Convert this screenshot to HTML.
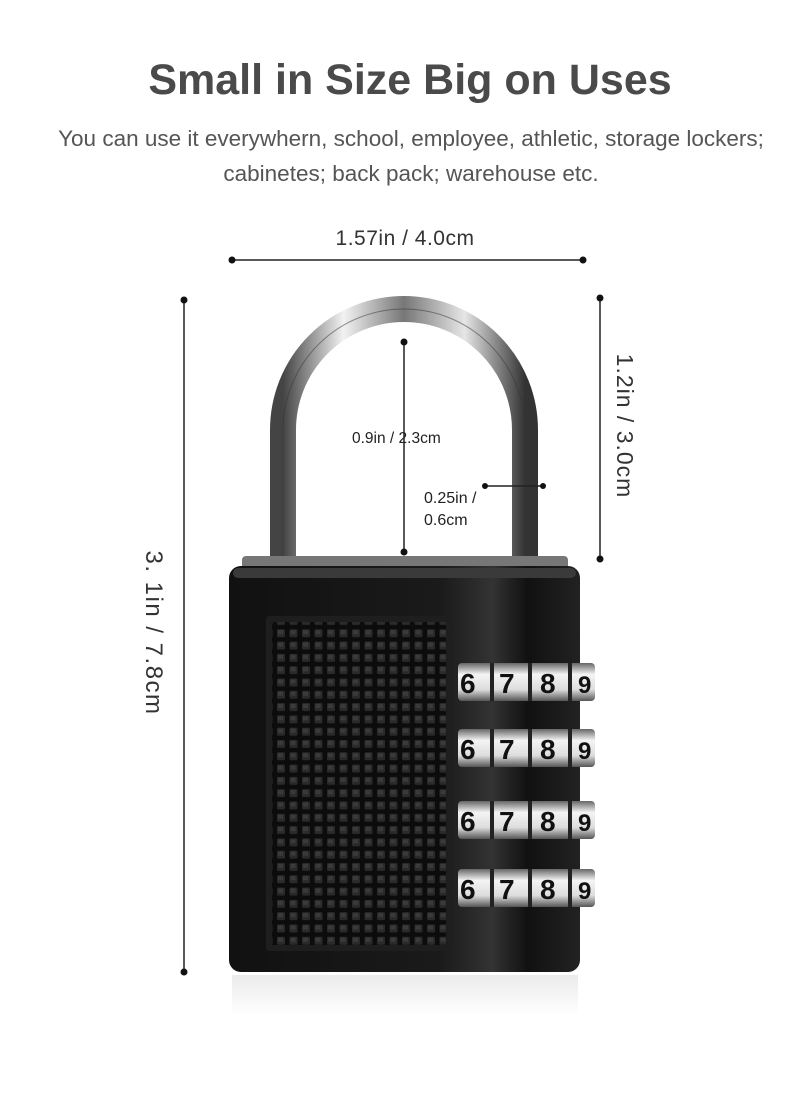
<!DOCTYPE html>
<html><head><meta charset="utf-8"><style>
html,body{margin:0;padding:0;background:#fff;}
body{width:800px;height:1091px;overflow:hidden;font-family:"Liberation Sans",sans-serif;}
</style></head><body>
<svg width="800" height="1091" viewBox="0 0 800 1091" xmlns="http://www.w3.org/2000/svg" font-family="Liberation Sans, sans-serif">
<defs>
<linearGradient id="chrome" x1="0" x2="1" y1="0" y2="0">
<stop offset="0" stop-color="#444"/><stop offset="0.25" stop-color="#f2f2f2"/><stop offset="0.5" stop-color="#777"/><stop offset="0.75" stop-color="#e6e6e6"/><stop offset="1" stop-color="#333"/>
</linearGradient>
<linearGradient id="body" x1="0" x2="1">
<stop offset="0" stop-color="#111"/><stop offset="0.6" stop-color="#1a1a1a"/><stop offset="0.75" stop-color="#333"/><stop offset="0.85" stop-color="#111"/><stop offset="1" stop-color="#222"/>
</linearGradient>
<linearGradient id="dial" x1="0" x2="0" y1="0" y2="1">
<stop offset="0" stop-color="#666"/><stop offset="0.3" stop-color="#f4f4f4"/><stop offset="0.7" stop-color="#ddd"/><stop offset="1" stop-color="#555"/>
</linearGradient>
<pattern id="grid" width="12.5" height="12.3" patternUnits="userSpaceOnUse">
<rect width="12.5" height="12.3" fill="#0c0c0c"/>
<rect x="2" y="2" width="8" height="8" rx="1.5" fill="#2a2a2a"/>
<rect x="3" y="3" width="5" height="4" fill="#3a3a3a"/>
</pattern>
<linearGradient id="refl" x1="0" x2="0" y1="0" y2="1"><stop offset="0" stop-color="#ddd"/><stop offset="1" stop-color="#fff"/></linearGradient>
</defs>
<text x="410" y="94" text-anchor="middle" font-size="43" font-weight="bold" fill="#4a4a4a">Small in Size Big on Uses</text>
<text x="411" y="146" text-anchor="middle" font-size="22.5" fill="#555">You can use it everywhern, school, employee, athletic, storage lockers;</text>
<text x="411" y="181" text-anchor="middle" font-size="22.5" fill="#555">cabinetes; back pack; warehouse etc.</text>

<!-- dims -->
<text x="405" y="245" text-anchor="middle" font-size="21" fill="#333" letter-spacing="0.5">1.57in / 4.0cm</text>
<line x1="232" y1="260" x2="583" y2="260" stroke="#222" stroke-width="1.5"/>
<circle cx="232" cy="260" r="3.5" fill="#111"/><circle cx="583" cy="260" r="3.5" fill="#111"/>
<line x1="184" y1="300" x2="184" y2="972" stroke="#222" stroke-width="1.5"/>
<circle cx="184" cy="300" r="3.5" fill="#111"/><circle cx="184" cy="972" r="3.5" fill="#111"/>
<text transform="translate(146,633) rotate(90)" text-anchor="middle" font-size="24" fill="#333" letter-spacing="1.5">3. 1in / 7.8cm</text>
<line x1="600" y1="298" x2="600" y2="559" stroke="#222" stroke-width="1.5"/>
<circle cx="600" cy="298" r="3.5" fill="#111"/><circle cx="600" cy="559" r="3.5" fill="#111"/>
<text transform="translate(617,426) rotate(90)" text-anchor="middle" font-size="23" fill="#333" letter-spacing="1">1.2in / 3.0cm</text>

<!-- reflection -->
<rect x="232" y="975" width="346" height="40" fill="url(#refl)" opacity="0.6"/>

<!-- shackle -->
<path d="M283 565 L283 430 A121 121 0 0 1 525 430 L525 565" fill="none" stroke="url(#chrome)" stroke-width="26"/>
<path d="M283 565 L283 430 A121 121 0 0 1 525 430 L525 565" fill="none" stroke="#333" stroke-width="1" opacity="0.5"/>

<!-- inner dims -->
<line x1="404" y1="342" x2="404" y2="552" stroke="#222" stroke-width="1.5"/>
<circle cx="404" cy="342" r="3.5" fill="#111"/><circle cx="404" cy="552" r="3.5" fill="#111"/>
<text x="352" y="443" font-size="15.5" fill="#222">0.9in / 2.3cm</text>
<line x1="485" y1="486" x2="543" y2="486" stroke="#222" stroke-width="1.5"/>
<circle cx="485" cy="486" r="3" fill="#111"/><circle cx="543" cy="486" r="3" fill="#111"/>
<text x="424" y="503" font-size="16" fill="#222">0.25in /</text>
<text x="424" y="525" font-size="16" fill="#222">0.6cm</text>

<!-- body -->
<rect x="242" y="556" width="326" height="16" rx="4" fill="#777"/>
<rect x="229" y="566" width="351" height="406" rx="12" fill="url(#body)"/>
<rect x="233" y="568" width="343" height="10" rx="5" fill="#3a3a3a"/>
<rect x="266" y="616" width="186" height="335" rx="3" fill="#1e1e1e"/>
<rect x="272" y="622" width="174" height="323" fill="url(#grid)"/>

<!-- dials -->
<g font-size="28" font-weight="bold" fill="#111">
<g transform="translate(0,663)">
<rect x="458" y="0" width="137" height="38" rx="4" fill="url(#dial)"/>
<line x1="492" y1="0" x2="492" y2="38" stroke="#222" stroke-width="4"/><line x1="530" y1="0" x2="530" y2="38" stroke="#222" stroke-width="4"/><line x1="570" y1="0" x2="570" y2="38" stroke="#222" stroke-width="4"/>
<text x="460" y="30">6</text><text x="499" y="30">7</text><text x="540" y="30">8</text><text x="578" y="30" font-size="24">9</text></g>
<g transform="translate(0,729)">
<rect x="458" y="0" width="137" height="38" rx="4" fill="url(#dial)"/>
<line x1="492" y1="0" x2="492" y2="38" stroke="#222" stroke-width="4"/><line x1="530" y1="0" x2="530" y2="38" stroke="#222" stroke-width="4"/><line x1="570" y1="0" x2="570" y2="38" stroke="#222" stroke-width="4"/>
<text x="460" y="30">6</text><text x="499" y="30">7</text><text x="540" y="30">8</text><text x="578" y="30" font-size="24">9</text></g>
<g transform="translate(0,801)">
<rect x="458" y="0" width="137" height="38" rx="4" fill="url(#dial)"/>
<line x1="492" y1="0" x2="492" y2="38" stroke="#222" stroke-width="4"/><line x1="530" y1="0" x2="530" y2="38" stroke="#222" stroke-width="4"/><line x1="570" y1="0" x2="570" y2="38" stroke="#222" stroke-width="4"/>
<text x="460" y="30">6</text><text x="499" y="30">7</text><text x="540" y="30">8</text><text x="578" y="30" font-size="24">9</text></g>
<g transform="translate(0,869)">
<rect x="458" y="0" width="137" height="38" rx="4" fill="url(#dial)"/>
<line x1="492" y1="0" x2="492" y2="38" stroke="#222" stroke-width="4"/><line x1="530" y1="0" x2="530" y2="38" stroke="#222" stroke-width="4"/><line x1="570" y1="0" x2="570" y2="38" stroke="#222" stroke-width="4"/>
<text x="460" y="30">6</text><text x="499" y="30">7</text><text x="540" y="30">8</text><text x="578" y="30" font-size="24">9</text></g>
</g>
</svg>
</body></html>
